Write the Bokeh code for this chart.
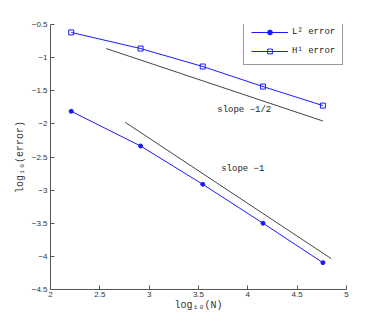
from bokeh.plotting import figure
from bokeh.models import Legend, LegendItem, Label, FixedTicker, Range1d
from bokeh.embed import file_html
from bokeh.resources import INLINE

log_n = [2.21, 2.913, 3.543, 4.154, 4.761]
l2_err = [-1.81, -2.334, -2.912, -3.50, -4.095]
h1_err = [-0.62, -0.863, -1.134, -1.437, -1.724]

half_x = [2.565, 4.761]
half_y = [-0.863, -1.957]
one_x = [2.757, 4.846]
one_y = [-1.976, -4.035]

x_ticks = [2, 2.5, 3, 3.5, 4, 4.5, 5]
y_ticks = [-0.5, -1, -1.5, -2, -2.5, -3, -3.5, -4, -4.5]

MONO = "Liberation Mono"
AX = "#555555"

p = figure(width=374, height=317, output_backend="svg", toolbar_location=None,
           x_range=Range1d(2, 5), y_range=Range1d(-4.5, -0.5))
p.min_border_left = 50
p.min_border_right = 28
p.min_border_top = 24
p.min_border_bottom = 28
p.outline_line_color = None
p.grid.visible = False
p.background_fill_color = "white"
p.border_fill_color = "white"

for ax in (p.xaxis[0], p.yaxis[0]):
    ax.axis_line_color = AX
    ax.major_tick_line_color = AX
    ax.major_tick_in = 4
    ax.major_tick_out = 0
    ax.minor_tick_line_color = None
    ax.major_label_text_font = "Liberation Sans"
    ax.major_label_text_font_size = "8px"
    ax.major_label_text_color = "#333333"
    ax.axis_label_text_font = MONO
    ax.axis_label_text_font_size = "10px"
    ax.axis_label_text_font_style = "normal"
    ax.axis_label_text_color = "#333333"

p.xaxis.ticker = FixedTicker(ticks=x_ticks)
p.yaxis.ticker = FixedTicker(ticks=y_ticks)
p.xaxis.major_label_standoff = 2
p.yaxis.major_label_standoff = 3
p.xaxis.axis_label = "log\u2081\u2080(N)"
p.yaxis.axis_label = "log\u2081\u2080(error)"
p.xaxis.axis_label_standoff = 0
p.yaxis.axis_label_standoff = 3

BLUE = "#1a1aff"
l2_line = p.line(log_n, l2_err, line_color=BLUE, line_width=1)
l2_pts = p.scatter(log_n, l2_err, marker="circle", size=4, fill_color=BLUE, line_color=BLUE)
h1_line = p.line(log_n, h1_err, line_color=BLUE, line_width=1)
h1_pts = p.scatter(log_n, h1_err, marker="square", size=5, fill_color=None, line_color=BLUE)

p.line(half_x, half_y, line_color="#444444", line_width=1)
p.line(one_x, one_y, line_color="#444444", line_width=1)

p.add_layout(Label(x=3.69, y=-1.79, text="slope \u22121/2", text_font=MONO,
                   text_font_size="9px", text_color="#222222", text_baseline="middle"))
p.add_layout(Label(x=3.73, y=-2.686, text="slope \u22121", text_font=MONO,
                   text_font_size="9px", text_color="#222222", text_baseline="middle"))

legend = Legend(items=[
    LegendItem(label="L\u00b2 error", renderers=[l2_line, l2_pts]),
    LegendItem(label="H\u00b9 error", renderers=[h1_line, h1_pts]),
], location=(193, 224))
legend.label_text_font = MONO
legend.label_text_font_size = "9px"
legend.label_text_color = "#222222"
legend.glyph_width = 37
legend.glyph_height = 12
legend.label_height = 12
legend.spacing = 7
legend.padding = 7
legend.margin = 0
legend.label_standoff = 4
legend.border_line_color = "#333333"
legend.border_line_width = 1
legend.background_fill_alpha = 1
p.add_layout(legend, "center")

open("out.html", "w").write(file_html(p, INLINE))
